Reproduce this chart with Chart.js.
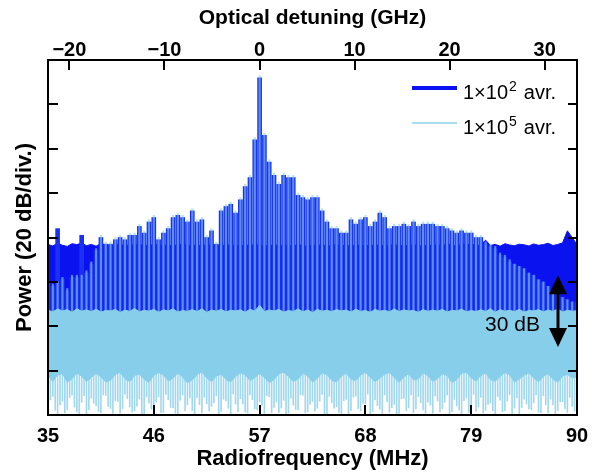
<!DOCTYPE html>
<html>
<head>
<meta charset="utf-8">
<script src="https://cdn.jsdelivr.net/npm/chart.js@4.4.1/dist/chart.umd.min.js"></script>
<style>
  html, body { margin: 0; padding: 0; background: #fff; }
  #wrap { width: 592px; height: 472px; }
</style>
</head>
<body>
<div id="wrap"><canvas id="specChart" width="592" height="472"></canvas></div>
<script>
// comb line positions (MHz)
const freqMHz = [
  35, 35.5, 36, 36.5, 37, 37.5, 38, 38.5, 39, 39.5,
  40, 40.5, 41, 41.5, 42, 42.5, 43, 43.5, 44, 44.5,
  45, 45.5, 46, 46.5, 47, 47.5, 48, 48.5, 49, 49.5,
  50, 50.5, 51, 51.5, 52, 52.5, 53, 53.5, 54, 54.5,
  55, 55.5, 56, 56.5, 57, 57.5, 58, 58.5, 59, 59.5,
  60, 60.5, 61, 61.5, 62, 62.5, 63, 63.5, 64, 64.5,
  65, 65.5, 66, 66.5, 67, 67.5, 68, 68.5, 69, 69.5,
  70, 70.5, 71, 71.5, 72, 72.5, 73, 73.5, 74, 74.5,
  75, 75.5, 76, 76.5, 77, 77.5, 78, 78.5, 79, 79.5,
  80, 80.5, 81, 81.5, 82, 82.5, 83, 83.5, 84, 84.5,
  85, 85.5, 86, 86.5, 87, 87.5, 88, 88.5, 89, 89.5,
  90
];
// noise samples between the comb lines (MHz)
const freqMidMHz = [
  35.25, 35.75, 36.25, 36.75, 37.25, 37.75, 38.25, 38.75, 39.25, 39.75,
  40.25, 40.75, 41.25, 41.75, 42.25, 42.75, 43.25, 43.75, 44.25, 44.75,
  45.25, 45.75, 46.25, 46.75, 47.25, 47.75, 48.25, 48.75, 49.25, 49.75,
  50.25, 50.75, 51.25, 51.75, 52.25, 52.75, 53.25, 53.75, 54.25, 54.75,
  55.25, 55.75, 56.25, 56.75, 57.25, 57.75, 58.25, 58.75, 59.25, 59.75,
  60.25, 60.75, 61.25, 61.75, 62.25, 62.75, 63.25, 63.75, 64.25, 64.75,
  65.25, 65.75, 66.25, 66.75, 67.25, 67.75, 68.25, 68.75, 69.25, 69.75,
  70.25, 70.75, 71.25, 71.75, 72.25, 72.75, 73.25, 73.75, 74.25, 74.75,
  75.25, 75.75, 76.25, 76.75, 77.25, 77.75, 78.25, 78.75, 79.25, 79.75,
  80.25, 80.75, 81.25, 81.75, 82.25, 82.75, 83.25, 83.75, 84.25, 84.75,
  85.25, 85.75, 86.25, 86.75, 87.25, 87.75, 88.25, 88.75, 89.25, 89.75
];
const rfTicks = [35, 46, 57, 68, 79, 90];
const detuningTicks = [-20, -10, 0, 10, 20, 30];
const powerTicks = [20, 40, 60, 80, 100, 120, 140];

// 1x10^2 averages: comb peaks and noise floor (dB, 0..160 = 8 div.)
const comb1e2 = [
  60, 58, 84, 61, 56, 62, 62, 81, 64, 68,
  74, 80, 77, 77, 79, 80, 79, 81, 81, 85,
  82, 87, 89, 79, 82, 84, 89, 90, 89, 87,
  92, 87, 88, 80, 83, 77, 92, 94, 95, 91,
  97, 103, 107, 124, 152, 126, 114, 108, 104, 108,
  107, 107, 99, 98, 97, 98, 98, 92, 87, 84,
  84, 82, 82, 88, 86, 88, 89, 85, 87, 91,
  89, 84, 85, 85, 86, 85, 87, 85, 86, 86,
  86, 85, 85, 84, 83, 82, 83, 82, 82, 80,
  80, 77, 76, 75, 72, 71, 69, 68, 67, 66,
  64, 63, 61, 60, 58, 56, 55, 53, 52, 51,
  51
];
const floor1e2 = [
  76.8, 76.2, 77.4, 76.5, 76.0, 77.2, 76.8, 77.5, 76.3, 76.9,
  76.1, 77.3, 76.6, 76.0, 77.1, 76.4, 76.9, 76.2, 77.0, 76.5,
  76.8, 76.1, 77.2, 76.4, 76.7, 76.0, 76.9, 76.3, 77.1, 76.5,
  76.2, 76.8, 76.0, 77.0, 76.4, 76.7, 76.1, 76.9, 76.3, 76.6,
  76.0, 76.8, 76.2, 77.0, 76.5, 76.1, 76.7, 76.3, 76.9, 76.0,
  76.6, 76.2, 76.8, 76.4, 76.0, 76.7, 76.3, 76.9, 76.1, 76.5,
  76.8, 76.2, 76.6, 76.0, 76.9, 76.4, 76.1, 76.7, 76.3, 76.8,
  76.0, 76.5, 76.9, 76.2, 76.6, 76.1, 76.8, 76.4, 76.0, 76.7,
  76.3, 76.9, 76.2, 77.2, 76.6, 76.1, 77.0, 76.5, 77.3, 76.2,
  76.8, 78.8, 76.4, 76.9, 76.1, 77.2, 76.6, 76.3, 77.0, 76.7,
  76.2, 77.1, 76.5, 76.8, 77.4, 76.4, 76.9, 77.6, 83.0, 80.0,
  76.8
];

// 1x10^5 averages: comb peaks, noise band edges, lowest noise dips
const comb1e5 = [
  61, 59, 60, 62, 57, 63, 63, 63, 65, 69,
  75, 81, 78, 78, 80, 81, 80, 82, 82, 86,
  83, 88, 90, 80, 83, 85, 90, 91, 90, 88,
  93, 88, 89, 81, 84, 78, 93, 95, 96, 92,
  98, 104, 108, 125, 153, 127, 115, 109, 105, 109,
  108, 108, 100, 99, 98, 99, 99, 93, 88, 85,
  85, 83, 83, 89, 87, 89, 90, 86, 88, 92,
  90, 85, 86, 86, 87, 86, 88, 86, 87, 87,
  87, 86, 86, 85, 84, 83, 84, 83, 83, 81,
  81, 78, 77, 76, 73, 72, 70, 68, 67, 66,
  64, 63, 61, 60, 58, 56, 55, 53, 52, 51,
  51
];
const floor1e5Top = [
  47.2, 46.5, 47.8, 46.9, 47.5, 46.3, 47.9, 46.8, 47.4, 46.6,
  47.7, 46.4, 47.1, 46.9, 47.6, 46.2, 47.3, 46.7, 48.0, 46.5,
  47.2, 46.8, 47.6, 46.3, 47.4, 46.9, 47.8, 46.4, 47.1, 46.7,
  47.5, 46.6, 47.9, 46.2, 47.3, 46.8, 47.6, 46.5, 47.2, 46.9,
  47.4, 46.3, 47.7, 46.8, 49.5, 46.6, 47.3, 46.9, 47.6, 46.4,
  47.1, 46.7, 47.8, 46.5, 47.4, 46.2, 47.6, 46.8, 47.2, 46.6,
  47.5, 46.9, 47.3, 46.4, 47.7, 46.7, 47.1, 46.3, 47.6, 46.8,
  47.2, 46.5, 47.8, 46.6, 47.4, 46.9, 47.1, 46.3, 47.5, 46.7,
  47.3, 46.8, 47.6, 46.4, 47.2, 46.9, 47.7, 46.5, 47.1, 46.6,
  47.4, 46.7, 47.9, 46.3, 47.5, 46.8, 47.2, 46.6, 47.6, 46.4,
  47.1, 46.9, 47.5, 46.5, 47.3, 46.7, 47.8, 46.4, 47.2, 46.8,
  47.0
];
const floor1e5Bottom = [
  17.5, 15.2, 18.1, 18.6, 14.8, 16.3, 19.0, 17.4, 15.1, 16.9,
  18.8, 17.2, 14.9, 15.6, 18.3, 19.2, 16.4, 15.0, 17.8, 18.5,
  16.1, 14.7, 17.9, 19.1, 18.0, 15.3, 16.6, 18.9, 17.1, 14.5,
  15.8, 18.2, 19.4, 16.7, 15.0, 17.6, 18.4, 16.0, 14.9, 17.3,
  19.0, 18.1, 15.5, 16.8, 18.7, 17.0, 14.6, 15.9, 18.6, 19.3,
  17.4, 15.2, 16.1, 18.8, 17.7, 14.8, 16.5, 19.0, 18.2, 15.7,
  14.9, 17.5, 18.9, 16.2, 15.4, 18.0, 19.2, 17.1, 15.0, 16.6,
  18.4, 19.1, 16.9, 14.7, 17.2, 18.6, 15.8, 16.3, 19.0, 17.7,
  15.1, 16.4, 18.5, 17.9, 14.6, 15.9, 18.8, 19.3, 16.7, 15.3,
  17.8, 18.9, 16.0, 15.2, 17.4, 19.1, 18.1, 14.8, 16.2, 17.9,
  19.0, 16.6, 15.0, 17.3, 18.7, 16.1, 14.9, 17.6, 18.3, 16.8,
  17.2
];
const grass1e5 = [
  3.1, 8.4, 0.6, 6.2, 2.5, 9.1, 1.4, 5.7, 0.3, 7.6,
  4.2, 1.0, 8.8, 2.9, 6.5, 0.8, 9.4, 3.6, 1.9, 7.2,
  0.5, 5.3, 2.2, 8.1, 1.2, 6.9, 3.3, 0.4, 9.0, 4.6,
  2.0, 7.8, 0.9, 5.1, 3.8, 8.6, 1.6, 6.4, 0.2, 4.9,
  7.3, 1.3, 9.2, 2.7, 5.9, 0.7, 8.2, 3.4, 1.1, 6.6,
  0.9, 4.4, 2.4, 8.9, 1.5, 6.1, 3.0, 9.3, 0.6, 5.5,
  3.7, 0.4, 7.0, 2.1, 8.5, 1.8, 5.0, 0.3, 6.8, 2.6,
  9.1, 1.2, 4.8, 0.7, 7.5, 3.2, 1.0, 8.3, 2.3, 5.8,
  0.8, 6.3, 2.8, 9.0, 1.4, 4.1, 0.5, 7.7, 3.5, 1.7,
  8.0, 2.2, 5.4, 0.6, 6.7, 1.9, 9.2, 3.1, 0.4, 7.1,
  2.7, 5.6, 1.3, 8.7, 0.9, 4.5, 2.0, 6.0, 1.1, 3.9,
  5.2
];
const grassMid1e5 = [
  6.8, 2.1, 4.5, 0.9, 7.9, 3.6, 0.5, 8.7, 2.4, 5.3,
  1.6, 9.0, 3.9, 0.7, 6.1, 2.8, 7.4, 1.3, 4.0, 0.6,
  8.2, 2.6, 5.8, 1.1, 9.3, 3.4, 0.8, 6.6, 2.0, 7.7,
  0.4, 4.7, 8.0, 1.8, 5.6, 0.3, 7.1, 3.0, 9.5, 1.5,
  5.0, 0.8, 6.9, 2.3, 4.3, 8.8, 1.0, 5.9, 3.2, 0.5,
  7.6, 2.5, 9.1, 0.9, 4.9, 1.7, 6.2, 0.4, 8.4, 3.1,
  1.2, 6.4, 0.6, 8.1, 2.9, 5.2, 9.4, 1.6, 4.2, 0.7,
  6.0, 3.3, 0.5, 7.3, 1.9, 9.0, 2.7, 5.5, 0.8, 4.4,
  8.6, 1.4, 5.7, 0.3, 7.0, 2.2, 6.5, 1.0, 9.2, 3.6,
  0.9, 4.8, 2.0, 8.3, 1.5, 6.3, 0.6, 7.8, 3.4, 5.1,
  2.4, 9.1, 1.1, 4.6, 7.2, 0.5, 5.9, 2.9, 8.0, 1.8
];

const FONT = "'Liberation Sans', Arial, Helvetica, sans-serif";
const DARK = "#0b12f0";
const LIGHT = "#87ceeb";
const BAND_BASE = 44;
const GRASS_TOP = 19;

const pts = arr => freqMHz.map((f, i) => ({ x: f, y: arr[i] }));
const spans = (xs, lo, hi) => xs.map((f, i) => ({ x: f, y: [Array.isArray(lo) ? lo[i] : lo, Array.isArray(hi) ? hi[i] : hi] }));

// frame, inward ticks, legend and the 30 dB marker
const decorations = {
  id: "decorations",
  afterDatasetsDraw(chart) {
    const { ctx, chartArea: a, scales } = chart;
    ctx.save();
    ctx.strokeStyle = "#000";
    ctx.lineWidth = 2;
    ctx.strokeRect(a.left, a.top, a.right - a.left, a.bottom - a.top);
    ctx.beginPath();
    rfTicks.forEach(v => {
      const x = Math.round(scales.x.getPixelForValue(v));
      ctx.moveTo(x, a.bottom); ctx.lineTo(x, a.bottom - 10);
    });
    detuningTicks.forEach(v => {
      const x = Math.round(scales.x2.getPixelForValue(v));
      ctx.moveTo(x, a.top); ctx.lineTo(x, a.top + 10);
    });
    powerTicks.forEach(v => {
      const y = Math.round(scales.y.getPixelForValue(v));
      ctx.moveTo(a.left, y); ctx.lineTo(a.left + 10, y);
      ctx.moveTo(a.right, y); ctx.lineTo(a.right - 9, y);
    });
    ctx.stroke();

    // legend
    const lx = a.right - 165;
    [[DARK, 4, "2", 88], ["#a9dcf0", 2, "5", 123]].forEach(([col, w, exp, ly]) => {
      ctx.strokeStyle = col;
      ctx.lineWidth = w;
      ctx.beginPath();
      ctx.moveTo(lx, ly); ctx.lineTo(lx + 45, ly);
      ctx.stroke();
      ctx.fillStyle = "#000";
      ctx.textBaseline = "alphabetic";
      ctx.textAlign = "left";
      ctx.font = "20px " + FONT;
      let tx = lx + 51;
      ctx.fillText("1\u00d710", tx, ly + 11);
      tx += ctx.measureText("1\u00d710").width + 1;
      ctx.font = "14px " + FONT;
      ctx.fillText(exp, tx, ly + 3);
      tx += ctx.measureText(exp).width + 7;
      ctx.font = "20px " + FONT;
      ctx.fillText("avr.", tx, ly + 11);
    });

    // 30 dB double arrow
    const ax = Math.round(scales.x.getPixelForValue(88.05));
    const yTop = scales.y.getPixelForValue(63);
    const yBot = scales.y.getPixelForValue(30.6);
    ctx.fillStyle = "#000";
    ctx.strokeStyle = "#000";
    ctx.lineWidth = 3;
    ctx.beginPath();
    ctx.moveTo(ax, yTop + 15); ctx.lineTo(ax, yBot - 15);
    ctx.stroke();
    ctx.beginPath();
    ctx.moveTo(ax, yTop); ctx.lineTo(ax - 9, yTop + 19); ctx.lineTo(ax + 9, yTop + 19);
    ctx.closePath();
    ctx.moveTo(ax, yBot); ctx.lineTo(ax - 9, yBot - 19); ctx.lineTo(ax + 9, yBot - 19);
    ctx.closePath();
    ctx.fill();
    ctx.font = "21px " + FONT;
    ctx.textAlign = "right";
    ctx.fillText("30 dB", ax - 18, (yTop + yBot) / 2 + 20);
    ctx.restore();
  }
};

const noSidePadding = s => { s.paddingLeft = 0; s.paddingRight = 0; };

window.addEventListener("load", () => {
  const ctx = document.getElementById("specChart").getContext("2d");

  new Chart(ctx, {
    type: "bar",
    data: {
      datasets: [
        {
          type: "line", label: "1\u00d710^5 avr. band",
          data: pts(floor1e5Top), fill: "+1",
          backgroundColor: LIGHT, borderColor: LIGHT, borderWidth: 1,
          pointRadius: 0, tension: 0, order: 1
        },
        {
          type: "line", label: "band low",
          data: pts(floor1e5Bottom), fill: false,
          borderColor: LIGHT, borderWidth: 1, pointRadius: 0, tension: 0, order: 0
        },
        {
          label: "dips", data: spans(freqMHz, grass1e5, floor1e5Bottom),
          backgroundColor: "#a2d8ee", barThickness: 1, grouped: false, order: 2
        },
        {
          label: "dips mid", data: spans(freqMidMHz, grassMid1e5, GRASS_TOP),
          backgroundColor: "#a2d8ee", barThickness: 1, grouped: false, order: 2
        },
        {
          label: "1\u00d710^5 avr.", data: spans(freqMHz, BAND_BASE, comb1e5),
          backgroundColor: "rgba(135,206,235,0.6)", barThickness: 1.5, grouped: false, order: 3
        },
        {
          label: "1\u00d710^2 avr.", data: spans(freqMHz, BAND_BASE, comb1e2),
          backgroundColor: "#1a30f2", barThickness: 4, grouped: false, order: 4
        },
        {
          type: "line", label: "1\u00d710^2 avr. floor",
          data: pts(floor1e2), fill: { value: BAND_BASE },
          backgroundColor: DARK, borderColor: DARK, borderWidth: 1,
          pointRadius: 0, tension: 0, order: 5
        }
      ]
    },
    options: {
      responsive: false,
      animation: false,
      events: [],
      devicePixelRatio: 1,
      layout: { padding: { right: 15, left: 0, top: 0, bottom: 0 } },
      plugins: { legend: { display: false }, tooltip: { enabled: false } },
      scales: {
        x: {
          type: "linear", position: "bottom", min: 35, max: 90, offset: false,
          grid: { display: false, drawTicks: false, offset: false },
          border: { display: false },
          afterBuildTicks: s => { s.ticks = rfTicks.map(v => ({ value: v })); },
          afterFit: s => { s.height = 57; noSidePadding(s); },
          ticks: { color: "#000", padding: 9, maxRotation: 0, font: { family: FONT, size: 20, weight: "bold" } },
          title: {
            display: true, text: "Radiofrequency (MHz)", color: "#000",
            padding: { top: 0, bottom: 0 }, font: { family: FONT, size: 22, weight: "bold" }
          }
        },
        x2: {
          type: "linear", position: "top", min: -22.25, max: 33.4, offset: false,
          grid: { display: false, drawTicks: false },
          border: { display: false },
          afterBuildTicks: s => { s.ticks = detuningTicks.map(v => ({ value: v })); },
          afterFit: s => { s.height = 60; noSidePadding(s); },
          ticks: {
            color: "#000", padding: -2, maxRotation: 0,
            font: { family: FONT, size: 20, weight: "bold" },
            callback: v => (v < 0 ? "\u2212" + Math.abs(v) : String(v))
          },
          title: {
            display: true, text: "Optical detuning (GHz)", color: "#000",
            padding: { top: 6, bottom: 0 }, font: { family: FONT, size: 21, weight: "bold" }
          }
        },
        y: {
          type: "linear", min: 0, max: 160,
          grid: { display: false, drawTicks: false },
          border: { display: false },
          afterFit: s => { s.width = 48; },
          ticks: { display: false, stepSize: 20 },
          title: {
            display: true, text: "Power (20 dB/div.)", color: "#000",
            padding: { top: 12, bottom: 0 }, font: { family: FONT, size: 22, weight: "bold" }
          }
        }
      }
    },
    plugins: [decorations]
  });
});
</script>
</body>
</html>
